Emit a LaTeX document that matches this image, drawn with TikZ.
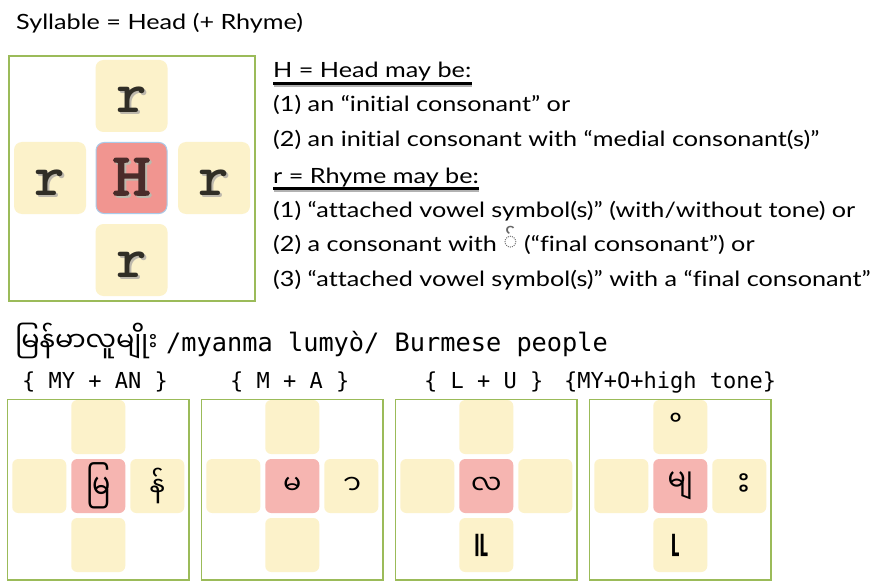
\documentclass[tikz,border=0pt]{standalone}
\usepackage{fontspec}
\setmainfont[Ligatures=NoCommon,FakeStretch=1.2]{Lato}
\newfontfamily\mmfont[Script=Myanmar]{Noto Sans Myanmar UI}
\newfontfamily\monofont{DejaVu Sans Mono}
\newfontfamily\courbold{lmmonolt10-bold.otf}
\newfontfamily\courreg[FakeBold=2.5,FakeStretch=1.22]{lmmono10-regular.otf}
\definecolor{boxgreen}{HTML}{9BBB59}
\definecolor{tileyellow}{HTML}{FCF2CA}
\definecolor{headred}{HTML}{F19590}
\definecolor{headpink}{HTML}{F6B5B1}
\definecolor{headblue}{HTML}{A9CBEA}
\definecolor{letterdark}{HTML}{302E26}
\definecolor{hbrown}{HTML}{4A2C2A}
\definecolor{shadowgray}{HTML}{BDB8AC}
\newcommand\shadtext[2]{\leavevmode\rlap{\hspace{2pt}\raisebox{-2pt}{\textcolor{shadowgray}{#2}}}\textcolor{#1}{#2}}
\newcommand\rlet{{\courbold\fontsize{58}{58}\selectfont\shadtext{letterdark}{r}}}
\newcommand\hlet{{\courreg\fontsize{60}{60}\selectfont\shadtext{hbrown}{H}}}
\newcommand\nb{^^^^00a0}
\newcommand\tallmark[3]{\scalebox{#1}[#2]{#3}}
\tikzset{
  txt/.style={font=\fontsize{21}{25}\selectfont, anchor=base west, inner sep=0pt},
  frame/.style={draw=boxgreen, line width=1.3pt, fill=white, inner sep=0pt},
  bigtile/.style={fill=tileyellow, rounded corners=8pt, minimum size=72pt, inner sep=0pt, text height=34pt, text depth=0pt},
  bighead/.style={fill=headred, draw=headblue, line width=1pt, rounded corners=8pt, minimum size=71pt, inner sep=0pt, text height=34pt, text depth=0pt},
  smalltile/.style={fill=tileyellow, rounded corners=6pt, minimum size=54pt, inner sep=0pt, font=\mmfont\fontsize{27}{30}\selectfont},
  smallhead/.style={smalltile, fill=headpink},
  mmtxt/.style={font=\mmfont\fontsize{27}{30}\selectfont, anchor=base west, inner sep=0pt},
  monotxt/.style={font=\monofont\fontsize{25.3}{30}\selectfont, anchor=base west, inner sep=0pt},
  bracetxt/.style={font=\monofont\fontsize{22}{26}\selectfont, anchor=base west, inner sep=0pt},
  uline/.style={line width=3pt, black},
  ushadow/.style={line width=2pt, black!30}
}
\newcommand\syl[6]{%
  \node[frame, minimum width=181.5pt, minimum height=180.5pt] (#1frame) at (#2,489.75) {};
  \node[smalltile] (#1top) at (#2,427) {#3};
  \node[smalltile] (#1left) at (#2-59,486) {};
  \node[smallhead] (#1head) at (#2,486) {#4};
  \node[smalltile] (#1right) at (#2+59,486) {#5};
  \node[smalltile] (#1bottom) at (#2,545) {#6};
}
\begin{document}
\begin{tikzpicture}[x=1pt,y=-1pt]
\useasboundingbox (0,0) rectangle (880,588);
\fill[white] (0,0) rectangle (880,588);
% title
\node[txt] (title) at (16,30) {Syllable = Head (+ Rhyme)};
% big syllable box
\node[frame, minimum width=246pt, minimum height=245pt] (bigbox) at (132,178.5) {};
\node[bigtile] (rtop) at (131.5,96) {\rlet};
\node[bigtile] (rleft) at (50,178) {\rlet};
\node[bighead] (head) at (131.5,178) {\hlet};
\node[bigtile] (rright) at (214,178) {\rlet};
\node[bigtile] (rbottom) at (131.5,260) {\rlet};
% explanation text
\node[txt] (hhead) at (273,78) {H = Head may be:};
\draw[ushadow] ([yshift=-8pt]hhead.base west) ++(1,0) -- ([yshift=-8pt]hhead.base east);
\draw[uline] ([yshift=-6pt]hhead.base west) -- ([yshift=-6pt]hhead.base east);
\node[txt] (h1) at (273,112) {(1) an “initial consonant” or};
\node[txt] (h2) at (273,147) {(2) an initial consonant with “medial consonant(s)”};
\node[txt] (rhead) at (273,183) {r = Rhyme may be:};
\draw[ushadow] ([yshift=-8pt]rhead.base west) ++(1,0) -- ([yshift=-8pt]rhead.base east);
\draw[uline] ([yshift=-6pt]rhead.base west) -- ([yshift=-6pt]rhead.base east);
\node[txt] (r1) at (273,217) {(1) “attached vowel symbol(s)” (with/without tone) or};
\node[txt] (r2) at (273,251) {(2) a consonant with {\mmfont\fontsize{24}{25}\selectfont\color{black!60}^^^^25cc^^^^103a} (“final consonant”) or};
\node[txt] (r3) at (273,286) {(3) “attached vowel symbol(s)” with a “final consonant”};
% Burmese example
\node[mmtxt] (burmese) at (15,351) {မြန်မာလူမျိုး};
\node[monotxt] (gloss) at (166,351) {/myanma lumyò/ Burmese people};
\node[bracetxt] (lab1) at (22,388) {\{ MY + AN \}};
\node[bracetxt] (lab2) at (230,388) {\{ M + A \}};
\node[bracetxt] (lab3) at (424,388) {\{ L + U \}};
\node[bracetxt] (lab4) at (564,388) {\{MY+O+high tone\}};
\syl{a}{98.25}{}{\tallmark{1}{1.3}{မြ}}{န်}{}
\syl{b}{292.25}{}{မ}{\nb ာ}{}
\syl{c}{486.25}{}{လ}{}{\tallmark{1.2}{2.2}{\nb ူ}}
\syl{d}{680.25}{\nb ိ}{\tallmark{1}{1.15}{မျ}}{\scalebox{1.4}{\nb း}}{\tallmark{1.2}{2.2}{\nb ု}}
\end{tikzpicture}
\end{document}
